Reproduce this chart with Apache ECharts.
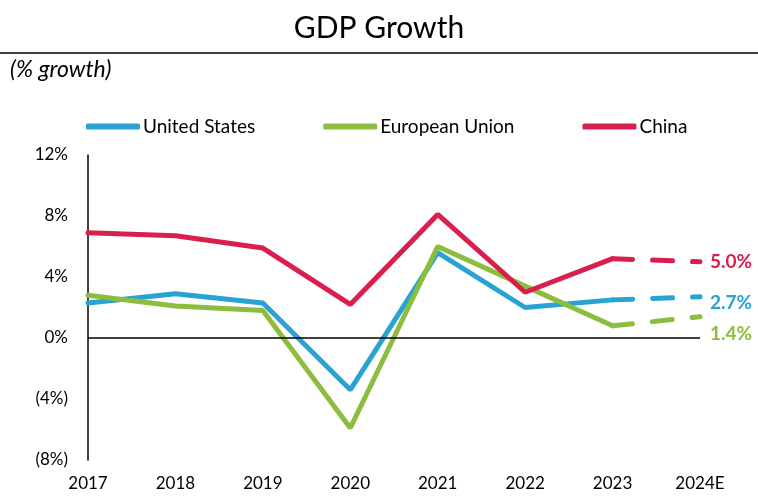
<!DOCTYPE html>
<html>
<head>
<meta charset="utf-8">
<script src="https://cdn.jsdelivr.net/npm/echarts@6/dist/echarts.min.js"></script>
<style>
  html, body { margin: 0; padding: 0; background: #fff; }
  #chart { width: 758px; height: 497px; }
</style>
</head>
<body>
<div id="chart"></div>
<script>
// categories and values
const years = ['2017', '2018', '2019', '2020', '2021', '2022', '2023', '2024E'];
const usGrowth = [2.3, 2.9, 2.3, -3.4, 5.6, 2.0, 2.5, 2.7];
const euGrowth = [2.8, 2.1, 1.8, -5.9, 6.0, 3.4, 0.8, 1.4];
const chinaGrowth = [6.9, 6.7, 5.9, 2.2, 8.1, 3.0, 5.2, 5.0];

const colors = { us: '#29a3d2', eu: '#8dbd3f', china: '#d91f4b' };
const FONT = 'Lato, "Open Sans", sans-serif';

// actual years solid, last step (estimate) dashed
function solidPart(arr) {
  return arr.map((v, i) => (i < arr.length - 1 ? v : null));
}
function dashPart(arr) {
  return arr.map((v, i) => (i >= arr.length - 2 ? v : null));
}

function lineSeries(name, data, color, dashed, labelOffset) {
  const s = {
    name: name,
    type: 'line',
    data: dashed ? dashPart(data) : solidPart(data),
    symbol: 'none',
    showSymbol: false,
    connectNulls: false,
    lineStyle: { color: color, width: 5, type: dashed ? [20, 20] : 'solid', cap: 'round' },
    itemStyle: { color: color },
    emphasis: { disabled: true },
    animation: false
  };
  if (dashed) {
    // value label at the 2024E end
    s.endLabel = {
      show: true,
      distance: 10,
      offset: labelOffset,
      formatter: p => p.value.toFixed(1) + '%',
      color: color,
      fontWeight: 'bold',
      fontSize: 19,
      fontFamily: FONT
    };
  }
  return s;
}

const chart = echarts.init(document.getElementById('chart'));

const usSolid = lineSeries('United States', usGrowth, colors.us, false);
usSolid.markLine = {
  silent: true,
  symbol: 'none',
  label: { show: false },
  lineStyle: { color: '#000', width: 1.5, type: 'solid' },
  data: [{ yAxis: 0 }],
  animation: false
};

chart.setOption({
  backgroundColor: '#fff',
  title: {
    text: 'GDP Growth',
    left: 'center',
    top: 8,
    textStyle: { fontFamily: FONT, fontSize: 30, fontWeight: 'normal', color: '#000' }
  },
  graphic: [
    {
      type: 'line',
      shape: { x1: 0, y1: 53, x2: 758, y2: 53 },
      style: { stroke: '#000', lineWidth: 1.5 }
    },
    {
      type: 'text',
      left: 10,
      top: 58,
      style: { text: '(% growth)', font: 'italic 23px ' + FONT, fill: '#000' }
    }
  ],
  legend: {
    data: ['United States', 'European Union', 'China'],
    left: 86,
    top: 117,
    padding: 0,
    icon: 'roundRect',
    itemWidth: 54,
    itemHeight: 6,
    itemGap: 68,
    textStyle: { fontFamily: FONT, fontSize: 19, color: '#000', padding: [0, 0, 0, -2] }
  },
  grid: { left: 88, right: 58, top: 155, bottom: 37, containLabel: false },
  xAxis: {
    type: 'category',
    data: years,
    boundaryGap: false,
    axisLine: { show: false },
    axisTick: { show: false },
    axisLabel: { margin: 15, fontFamily: FONT, fontSize: 17, color: '#000' }
  },
  yAxis: {
    type: 'value',
    min: -8,
    max: 12,
    interval: 4,
    axisLine: { show: true, lineStyle: { color: '#000', width: 1.5 } },
    axisTick: { show: false },
    splitLine: { show: false },
    axisLabel: {
      margin: 20,
      fontFamily: FONT,
      fontSize: 17,
      color: '#000',
      formatter: v => (v < 0 ? '(' + Math.abs(v) + '%)' : v + '%')
    }
  },
  series: [
    usSolid,
    lineSeries('European Union', euGrowth, colors.eu, false),
    lineSeries('China', chinaGrowth, colors.china, false),
    lineSeries('United States', usGrowth, colors.us, true, [0, 6]),
    lineSeries('European Union', euGrowth, colors.eu, true, [0, 17]),
    lineSeries('China', chinaGrowth, colors.china, true, [0, 0])
  ]
});

window.addEventListener('resize', () => chart.resize());
</script>
</body>
</html>
